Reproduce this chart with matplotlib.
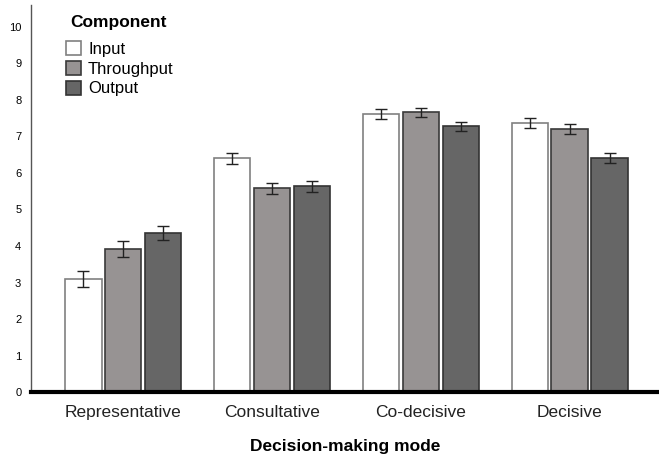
import numpy as np
import matplotlib.pyplot as plt

plt.rcParams['font.family'] = ['Liberation Sans', 'DejaVu Sans']

modes = ['Representative', 'Consultative', 'Co-decisive', 'Decisive']
components = ['Input', 'Throughput', 'Output']
means = {
    'Input':      [3.10, 6.40, 7.62, 7.37],
    'Throughput': [3.92, 5.58, 7.66, 7.20],
    'Output':     [4.36, 5.63, 7.28, 6.40],
}
errs = {
    'Input':      [0.22, 0.16, 0.13, 0.13],
    'Throughput': [0.21, 0.15, 0.13, 0.13],
    'Output':     [0.20, 0.15, 0.13, 0.14],
}

face = {'Input': 'white', 'Throughput': '#979393', 'Output': '#666666'}
edge = {'Input': '#808080', 'Throughput': '#3a3a3a', 'Output': '#333333'}

fig = plt.figure(figsize=(6.59, 4.58), dpi=100)
ax = fig.add_axes([0.047, 0.144, 0.953, 0.845])

x = np.arange(len(modes))
w = 0.245
step = 0.268
for i, c in enumerate(components):
    ax.bar(x + (i - 1) * step, means[c], width=w, color=face[c],
           edgecolor=edge[c], linewidth=1.2, label=c,
           yerr=errs[c], capsize=4,
           error_kw=dict(ecolor='#222222', elinewidth=1, capthick=1))

ax.set_xlim(-0.62, 3.6)
ax.set_ylim(0, 10.6)
ax.set_yticks(range(0, 11))
ax.tick_params(axis='y', length=0, labelsize=8, pad=7)
ax.tick_params(axis='x', length=0, labelsize=12.5, pad=9, colors='#222222')
ax.set_xticks(x)
ax.set_xticklabels(modes)

ax.spines['top'].set_visible(False)
ax.spines['right'].set_visible(False)
ax.spines['left'].set_color('#555555')
ax.spines['left'].set_linewidth(1)
ax.spines['bottom'].set_linewidth(3)
ax.spines['bottom'].set_color('black')

ax.set_xlabel('Decision-making mode', fontsize=12.5, fontweight='bold')
ax.xaxis.set_label_coords(0.5, -0.14)
ax.xaxis.label.set_va('center')

# legend entries, title drawn separately so it can sit higher
leg = ax.legend(loc='upper left', bbox_to_anchor=(0.055, 0.907),
                frameon=False, fontsize=12, handlelength=0.9, handleheight=0.9,
                handletextpad=0.45, labelspacing=0.25, borderpad=0,
                borderaxespad=0)
for h in leg.legend_handles:
    h.set_linewidth(1.2)
ax.text(0.062, 0.956, 'Component', transform=ax.transAxes, fontsize=12.5,
        fontweight='bold', va='center', ha='left')

fig.savefig('out.png', dpi=100)
